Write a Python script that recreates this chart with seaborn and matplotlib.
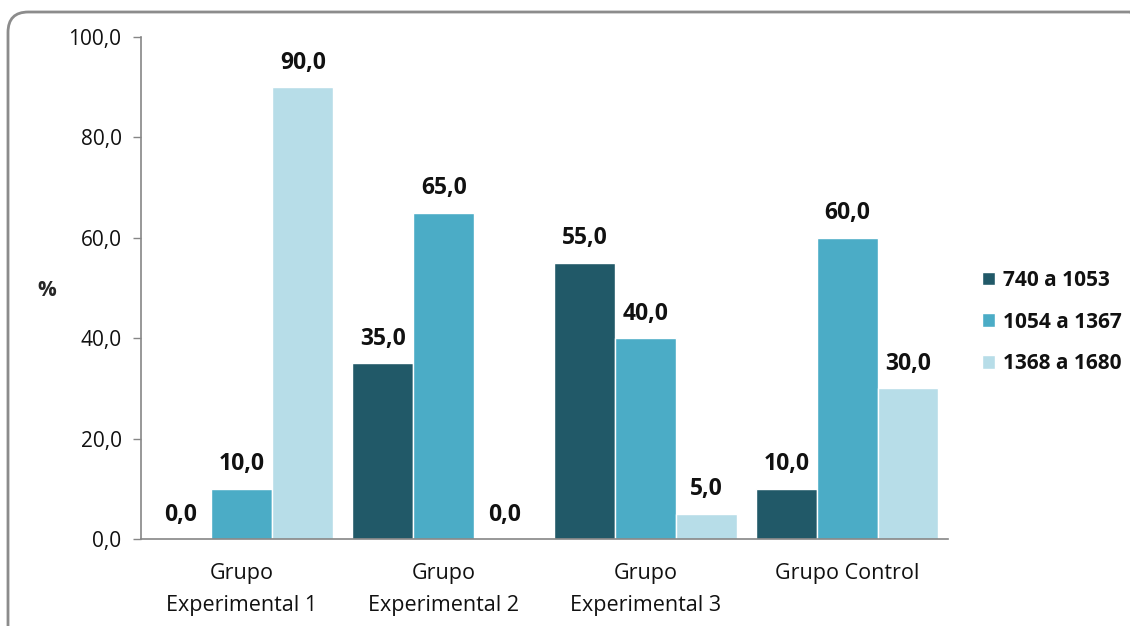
import matplotlib
matplotlib.use("Agg")
import matplotlib.pyplot as plt
from matplotlib.patches import FancyBboxPatch
import pandas as pd
import seaborn as sns

# Data
groups = ["Grupo\nExperimental 1", "Grupo\nExperimental 2", "Grupo\nExperimental 3", "Grupo Control"]
ranges = ["740 a 1053", "1054 a 1367", "1368 a 1680"]
low_vals = [0.0, 35.0, 55.0, 10.0]
mid_vals = [10.0, 65.0, 40.0, 60.0]
high_vals = [90.0, 0.0, 5.0, 30.0]
y_ticks = [0, 20, 40, 60, 80, 100]

palette = ["#215968", "#4BACC6", "#B7DDE8"]

rows = []
for name, vals in zip(ranges, [low_vals, mid_vals, high_vals]):
    for g, v in zip(groups, vals):
        rows.append({"grupo": g, "rango": name, "pct": v})
df = pd.DataFrame(rows)

sns.set_style("white")
plt.rcParams["font.family"] = ["Open Sans", "DejaVu Sans"]

W, H = 1130, 626
fig = plt.figure(figsize=(W / 100, H / 100), dpi=100)
ax = fig.add_axes([141 / W, (H - 539) / H, (948 - 141) / W, (539 - 37) / H])

sns.barplot(data=df, x="grupo", y="pct", hue="rango", palette=palette,
            width=0.905, gap=0, saturation=1, ax=ax, errorbar=None)

for cont in ax.containers:
    ax.bar_label(cont, labels=[f"{b.get_height():.1f}".replace(".", ",") for b in cont],
                 padding=9, fontsize=16.5, fontweight="bold", color="#111111")

ax.set_xlim(-0.5, 3.5)
ax.set_ylim(0, 100)
ax.set_yticks(y_ticks)
ax.set_yticklabels([f"{t:.1f}".replace(".", ",") for t in y_ticks], fontsize=15, color="#111111")
ax.tick_params(axis="y", length=6, width=1, color="#868686", direction="out", pad=8, left=True)
ax.tick_params(axis="x", length=0, pad=17, labelsize=15.5, labelcolor="#111111")
for lbl in ax.get_xticklabels():
    lbl.set_linespacing(1.7)
ax.set_xlabel("")
ax.set_ylabel("")

for side in ["top", "right"]:
    ax.spines[side].set_visible(False)
for side in ["left", "bottom"]:
    ax.spines[side].set_color("#868686")
    ax.spines[side].set_linewidth(1.2)

fig.text(47 / W, 1 - 291 / H, "%", fontsize=15, fontweight="bold", ha="center", va="center")

leg = ax.legend(loc="center left", bbox_to_anchor=(963 / W, 1 - 322 / H),
                bbox_transform=fig.transFigure, frameon=False,
                prop={"size": 15, "weight": "bold"}, handlelength=0.62, handleheight=0.62,
                handletextpad=0.4, labelspacing=1.0)
for t in leg.get_texts():
    t.set_color("#111111")

# rounded chart frame, running off the right and bottom edges
frame = FancyBboxPatch((8 / W, -30 / H), (1150 - 8) / W, (H - 12 + 30) / H,
                       boxstyle="round,pad=0,rounding_size=0.018",
                       transform=fig.transFigure, fill=False,
                       edgecolor="#8c8c8c", linewidth=2, mutation_aspect=W / H)
fig.patches.append(frame)

fig.savefig("out.png", dpi=100)
